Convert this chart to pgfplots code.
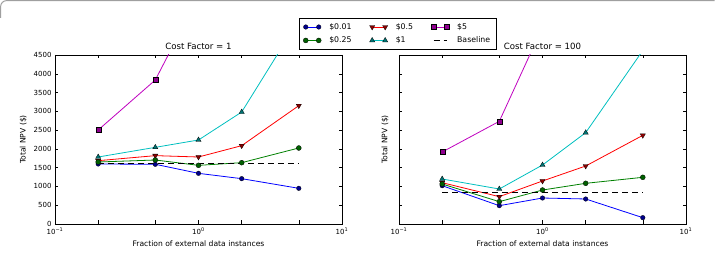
\documentclass[border=0pt]{standalone}
\usepackage{pgfplots}
\pgfplotsset{compat=1.18}
\usepackage{fontspec}
\setmainfont{DejaVu Sans}

\definecolor{mplb}{rgb}{0,0,1}
\definecolor{mplg}{rgb}{0,0.5,0}
\definecolor{mplr}{rgb}{1,0,0}
\definecolor{mplc}{rgb}{0,0.75,0.75}
\definecolor{mplm}{rgb}{0.75,0,0.75}

\tikzset{
  sb/.style={mplb, line width=0.8pt, mark=*, mark size=2.3pt, mark options={solid, fill=mplb!55!black, draw=black, line width=0.3pt}},
  sg/.style={mplg, line width=0.8pt, mark=*, mark size=2.5pt, mark options={solid, fill=mplg!75!black, draw=black, line width=0.3pt}},
  sr/.style={mplr, line width=0.8pt, mark=triangle*, mark size=3pt, mark options={solid, rotate=180, fill=mplr!55!black, draw=black, line width=0.3pt}},
  sc/.style={mplc, line width=0.8pt, mark=triangle*, mark size=3pt, mark options={solid, fill=mplc!60!black, draw=black, line width=0.3pt}},
  sm/.style={mplm, line width=0.8pt, mark=square*, mark size=2.5pt, mark options={solid, fill=mplm!75!black, draw=black, line width=0.3pt}},
  sk/.style={black, dash pattern=on 6pt off 4pt, line width=0.9pt},
}

\begin{document}
\begin{tikzpicture}
\path[use as bounding box] (0,0) rectangle (715pt,254pt);
\draw[gray!75, line width=1pt, rounded corners=6pt] (0.6pt,236pt) -- (0.6pt,253.4pt) -- (714.6pt,253.4pt);

% Cost factor 1
\begin{axis}[
  scale only axis, width=287pt, height=169pt,
  at={(55pt,30pt)}, anchor=south west,
  xmode=log, xmin=0.1, xmax=10,
  ymin=0, ymax=4500,
  ytick={0,500,...,4500},
  xtick={0.1,1,10},
  xticklabels={10\textsuperscript{−1},10\textsuperscript{0},10\textsuperscript{1}},
  minor xtick={0.2,0.5,2,5},
  tick align=inside, tick pos=both,
  major tick length=3.5pt, minor tick length=3.5pt,
  tick style={black, line width=0.5pt},
  axis line style={black, line width=0.8pt},
  /pgf/number format/1000 sep={},
  /pgf/number format/assume math mode=true,
  tick label style={font=\fontsize{7}{8}\selectfont},
  label style={font=\fontsize{7.6}{9}\selectfont},
  title style={font=\fontsize{8.6}{10}\selectfont, inner sep=1pt, yshift=-1.5pt},
  xlabel={Fraction of external data instances},
  ylabel={Total NPV (\$)},
  title={Cost Factor = 1},
  legend columns=3,
  legend image code/.code={\draw[#1] plot coordinates {(0pt,0pt) (13pt,0pt)};},
  legend style={at={(0.850,1.219)}, anchor=north west, draw=black, line width=0.6pt,
    font=\fontsize{7.8}{9}\selectfont, inner xsep=4pt, inner ysep=3pt, row sep=2pt,
    /tikz/every odd column/.append style={column sep=6pt},
    /tikz/every even column/.append style={column sep=16pt}},
  legend cell align=left]
\addplot[sb] coordinates {(0.2,1598) (0.5,1590) (1,1349) (2,1207) (5,950)};
\addlegendentry{\$0.01}
\addplot[sr] coordinates {(0.2,1686) (0.5,1820) (1,1784) (2,2086) (5,3151)};
\addlegendentry{\$0.5}
\addplot[sm] coordinates {(0.2,2503) (0.5,3834) (1,6060)};
\addlegendentry{\$5}
\addplot[sg] coordinates {(0.2,1651) (0.5,1704) (1,1562) (2,1633) (5,2024)};
\addlegendentry{\$0.25}
\addplot[sc] coordinates {(0.2,1784) (0.5,2041) (1,2237) (2,2982) (5,5430)};
\addlegendentry{\$1}
\addplot[sk] coordinates {(0.2,1620) (5,1620)};
\addlegendentry{Baseline}
\end{axis}

% Cost factor 100
\begin{axis}[
  scale only axis, width=287pt, height=169pt,
  at={(399pt,30pt)}, anchor=south west,
  xmode=log, xmin=0.1, xmax=10,
  ymin=0, ymax=4500,
  ytick={0,500,...,4500},
  yticklabels={},
  xtick={0.1,1,10},
  xticklabels={10\textsuperscript{−1},10\textsuperscript{0},10\textsuperscript{1}},
  minor xtick={0.2,0.5,2,5},
  tick align=inside, tick pos=both,
  major tick length=3.5pt, minor tick length=3.5pt,
  tick style={black, line width=0.5pt},
  axis line style={black, line width=0.8pt},
  tick label style={font=\fontsize{7}{8}\selectfont},
  label style={font=\fontsize{7.6}{9}\selectfont},
  title style={font=\fontsize{8.6}{10}\selectfont, inner sep=1pt, yshift=-1.5pt},
  xlabel={Fraction of external data instances},
  ylabel={Total NPV (\$)},
  title={Cost Factor = 100}]
\addplot[sb] coordinates {(0.2,1020) (0.5,488) (1,692) (2,666) (5,169)};
\addplot[sr] coordinates {(0.2,1100) (0.5,728) (1,1145) (2,1544) (5,2361)};
\addplot[sm] coordinates {(0.2,1917) (0.5,2734) (1,5240)};
\addplot[sg] coordinates {(0.2,1065) (0.5,595) (1,905) (2,1083) (5,1243)};
\addplot[sc] coordinates {(0.2,1198) (0.5,932) (1,1571) (2,2432) (5,4620)};
\addplot[sk] coordinates {(0.2,834) (5,834)};
\end{axis}
\end{tikzpicture}
\end{document}
